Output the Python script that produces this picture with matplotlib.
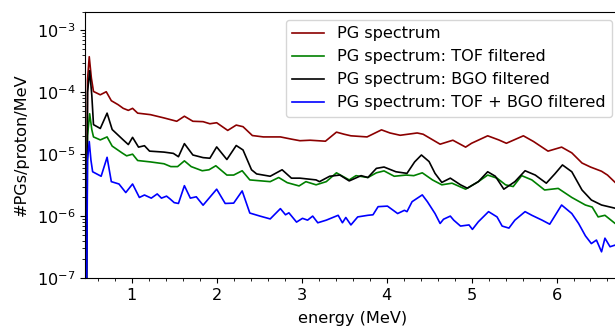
"""PG spectra: unfiltered vs TOF / BGO filtered (log scale)."""
import matplotlib
matplotlib.use('Agg')
import matplotlib.pyplot as plt
from matplotlib.ticker import AutoMinorLocator

# --- values (energy in MeV, #PGs/proton/MeV) ---
e_raw = [0.46, 0.48, 0.50, 0.525, 0.55, 0.63, 0.70, 0.76, 0.84, 0.90, 0.96, 1.01, 1.07,
         1.22, 1.38, 1.53, 1.62, 1.72, 1.84, 1.92, 2.00, 2.13, 2.23, 2.31, 2.42, 2.55,
         2.75, 2.88, 2.98, 3.10, 3.28, 3.41, 3.50, 3.58, 3.77, 3.94, 4.04, 4.16, 4.36,
         4.43, 4.63, 4.78, 4.93, 5.00, 5.19, 5.32, 5.41, 5.61, 5.73, 5.90, 6.06, 6.18,
         6.30, 6.40, 6.53, 6.60, 6.69, 6.75]
pg_raw = [1e-9, 1.6e-4, 3.75e-4, 1.7e-4, 1.03e-4, 9.1e-5, 1.02e-4, 7.3e-5, 6.3e-5, 5.5e-5,
          5.1e-5, 5.5e-5, 4.6e-5, 4.35e-5, 3.85e-5, 3.4e-5, 4.1e-5, 3.4e-5, 3.35e-5, 3.1e-5,
          3.22e-5, 2.42e-5, 2.95e-5, 2.78e-5, 2.0e-5, 1.9e-5, 1.9e-5, 1.75e-5, 1.65e-5,
          1.68e-5, 1.62e-5, 2.27e-5, 2.1e-5, 1.98e-5, 1.9e-5, 2.47e-5, 2.2e-5, 2.02e-5,
          2.2e-5, 2.1e-5, 1.45e-5, 1.68e-5, 1.3e-5, 1.5e-5, 1.98e-5, 1.7e-5, 1.5e-5,
          1.98e-5, 1.6e-5, 1.12e-5, 1.3e-5, 1.05e-5, 7.2e-6, 6.2e-6, 5.3e-6, 4.6e-6,
          3.5e-6, 3.0e-6]

e_tof = [0.46, 0.48, 0.505, 0.53, 0.55, 0.63, 0.71, 0.77, 0.89, 0.94, 1.01, 1.07, 1.22,
         1.38, 1.46, 1.54, 1.62, 1.70, 1.83, 1.91, 1.99, 2.12, 2.20, 2.30, 2.39, 2.63,
         2.73, 2.83, 2.97, 3.05, 3.17, 3.29, 3.41, 3.56, 3.64, 3.78, 3.88, 3.97, 4.09,
         4.23, 4.32, 4.42, 4.54, 4.65, 4.77, 4.93, 5.08, 5.19, 5.30, 5.40, 5.49, 5.59,
         5.71, 5.86, 6.02, 6.18, 6.34, 6.42, 6.49, 6.57, 6.69, 6.75]
pg_tof = [1e-9, 2.0e-5, 4.5e-5, 2.5e-5, 1.9e-5, 1.7e-5, 1.9e-5, 1.35e-5, 1.04e-5, 9.4e-6,
          1.0e-5, 7.9e-6, 7.5e-6, 7.0e-6, 6.3e-6, 6.3e-6, 7.8e-6, 6.3e-6, 5.4e-6, 5.6e-6,
          6.5e-6, 4.6e-6, 4.6e-6, 5.4e-6, 3.84e-6, 3.6e-6, 4.2e-6, 3.47e-6, 3.07e-6,
          3.6e-6, 3.2e-6, 3.6e-6, 5.0e-6, 3.84e-6, 4.5e-6, 4.2e-6, 5.0e-6, 5.37e-6,
          4.4e-6, 4.6e-6, 4.5e-6, 5.0e-6, 3.84e-6, 3.2e-6, 3.4e-6, 2.72e-6, 3.6e-6,
          4.6e-6, 4.1e-6, 3.2e-6, 3.0e-6, 4.5e-6, 3.84e-6, 2.64e-6, 2.8e-6, 2.0e-6,
          1.51e-6, 1.4e-6, 9.7e-7, 1.03e-6, 7.6e-7, 7.2e-7]

e_bgo = [0.46, 0.48, 0.505, 0.53, 0.55, 0.63, 0.71, 0.77, 0.90, 0.96, 1.01, 1.08, 1.15,
         1.21, 1.38, 1.49, 1.55, 1.62, 1.72, 1.84, 1.92, 2.00, 2.12, 2.23, 2.31, 2.41,
         2.47, 2.63, 2.77, 2.88, 2.98, 3.17, 3.21, 3.33, 3.45, 3.56, 3.70, 3.78, 3.88,
         3.97, 4.11, 4.24, 4.33, 4.41, 4.50, 4.57, 4.65, 4.75, 4.87, 4.95, 5.08, 5.19,
         5.28, 5.38, 5.51, 5.63, 5.75, 5.88, 5.98, 6.07, 6.18, 6.30, 6.41, 6.53, 6.69,
         6.75]
pg_bgo = [1e-9, 1.0e-4, 2.23e-4, 9e-5, 3.0e-5, 2.6e-5, 4.6e-5, 2.5e-5, 1.7e-5, 1.43e-5,
          1.87e-5, 1.3e-5, 1.37e-5, 1.12e-5, 1.08e-5, 1.03e-5, 9.1e-6, 1.48e-5, 9.7e-6,
          8.8e-6, 8.6e-6, 1.31e-5, 8.2e-6, 1.38e-5, 1.17e-5, 5.6e-6, 4.8e-6, 4.4e-6,
          5.6e-6, 4.1e-6, 4.1e-6, 3.84e-6, 3.6e-6, 4.4e-6, 4.6e-6, 3.7e-6, 4.5e-6,
          4.2e-6, 5.9e-6, 6.2e-6, 5.2e-6, 4.9e-6, 7.5e-6, 9.7e-6, 7.6e-6, 4.9e-6, 3.5e-6,
          4.1e-6, 3.2e-6, 2.82e-6, 3.6e-6, 5.2e-6, 4.4e-6, 2.72e-6, 3.6e-6, 5.4e-6,
          4.6e-6, 3.4e-6, 4.8e-6, 6.7e-6, 5.2e-6, 2.64e-6, 1.82e-6, 1.51e-6, 1.34e-6,
          1.3e-6]

e_both = [0.46, 0.48, 0.50, 0.52, 0.54, 0.64, 0.71, 0.76, 0.85, 0.93, 1.01, 1.09, 1.15,
          1.23, 1.30, 1.35, 1.41, 1.45, 1.50, 1.55, 1.62, 1.69, 1.76, 1.84, 2.00, 2.10,
          2.20, 2.30, 2.39, 2.51, 2.63, 2.75, 2.81, 2.85, 2.94, 3.01, 3.07, 3.13, 3.19,
          3.29, 3.43, 3.48, 3.52, 3.58, 3.66, 3.78, 3.84, 3.90, 4.01, 4.13, 4.21, 4.24,
          4.30, 4.42, 4.48, 4.57, 4.63, 4.67, 4.75, 4.79, 4.87, 4.97, 5.01, 5.08, 5.20,
          5.30, 5.36, 5.44, 5.51, 5.63, 5.71, 5.83, 5.92, 6.06, 6.18, 6.26, 6.34, 6.41,
          6.47, 6.53, 6.57, 6.63, 6.69, 6.75]
pg_both = [1e-9, 8e-6, 1.6e-5, 8e-6, 5.2e-6, 4.4e-6, 8.9e-6, 3.6e-6, 3.3e-6, 2.4e-6,
           3.3e-6, 2.0e-6, 2.19e-6, 1.95e-6, 2.28e-6, 1.95e-6, 2.1e-6, 1.9e-6, 1.65e-6,
           1.6e-6, 3.1e-6, 1.95e-6, 2.05e-6, 1.5e-6, 2.72e-6, 1.6e-6, 1.62e-6, 2.55e-6,
           1.12e-6, 1.0e-6, 9.0e-7, 1.32e-6, 1.05e-6, 1.13e-6, 8.0e-7, 9.2e-7, 8.6e-7,
           1.0e-6, 7.8e-7, 8.6e-7, 1.03e-6, 7.8e-7, 9.5e-7, 7.2e-7, 9.7e-7, 1.03e-6,
           1.05e-6, 1.42e-6, 1.45e-6, 1.1e-6, 1.24e-6, 1.18e-6, 1.71e-6, 2.2e-6, 1.71e-6,
           1.1e-6, 7.6e-7, 8.9e-7, 1.0e-6, 8.6e-7, 6.9e-7, 7.2e-7, 6.1e-7, 8.1e-7,
           1.18e-6, 9.7e-7, 6.9e-7, 6.4e-7, 8.6e-7, 1.18e-6, 1.03e-6, 8.6e-7, 7.4e-7,
           1.51e-6, 1.1e-6, 7.6e-7, 4.8e-7, 3.6e-7, 4.1e-7, 2.65e-7, 4.4e-7, 3.2e-7,
           3.4e-7, 3.3e-7]

labels = ['PG spectrum', 'PG spectrum: TOF filtered',
          'PG spectrum: BGO filtered', 'PG spectrum: TOF + BGO filtered']

plt.rcParams['font.size'] = 11.6

fig = plt.figure(figsize=(6.15, 3.26), dpi=100)
# axes extend a little past the right edge (reference is cropped there)
ax = fig.add_axes([0.1382, 0.1472, 0.8703, 0.8169])

ax.plot(e_raw, pg_raw, color='darkred', lw=1.2, label=labels[0])
ax.plot(e_tof, pg_tof, color='green', lw=1.2, label=labels[1])
ax.plot(e_bgo, pg_bgo, color='black', lw=1.2, label=labels[2])
ax.plot(e_both, pg_both, color='blue', lw=1.2, label=labels[3])

ax.set_yscale('log')
ax.set_xlim(0.45, 6.75)
ax.set_ylim(1e-7, 2e-3)
ax.xaxis.set_minor_locator(AutoMinorLocator(5))

ax.set_xlabel('energy (MeV)', labelpad=6)
ax.set_ylabel('#PGs/proton/MeV', labelpad=6)
ax.legend(loc='upper right')

fig.savefig('out.png', dpi=100)
print('Saved out.png')
